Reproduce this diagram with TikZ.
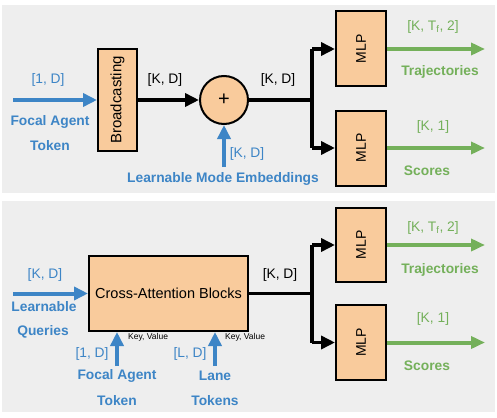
\documentclass[tikz,border=0pt]{standalone}
\usepackage{fontspec}
\setmainfont{Liberation Sans}
\usetikzlibrary{arrows.meta}
\definecolor{panel}{HTML}{EEEEEE}
\definecolor{peach}{HTML}{F9CB9C}
\definecolor{myblue}{HTML}{3D85C6}
\definecolor{mygreen}{HTML}{74B05A}
\tikzset{
  box/.style={draw=black, line width=2pt, fill=peach, inner sep=0pt, font=\fontsize{14}{16}\selectfont},
  blk/.style={line width=3.5pt, black, line join=miter},
  blkarrow/.style={blk, -{Triangle[length=14pt,width=13pt]}},
  bluearrow/.style={line width=4pt, myblue, -{Triangle[length=14pt,width=13pt]}},
  greenarrow/.style={line width=4pt, mygreen, -{Triangle[length=14pt,width=12pt]}},
  lbl/.style={inner sep=0pt, font=\fontsize{13.8}{16}\selectfont},
  bluelbl/.style={lbl, text=myblue},
  bluebold/.style={lbl, text=myblue, font=\fontsize{13.8}{16}\selectfont\bfseries},
  greenlbl/.style={lbl, text=mygreen},
  greenbold/.style={lbl, text=mygreen, font=\fontsize{13.8}{16}\selectfont\bfseries},
  small/.style={inner sep=0pt, font=\fontsize{8.5}{10}\selectfont, anchor=west},
}
\begin{document}
\begin{tikzpicture}[x=1pt,y=-1pt]
\useasboundingbox (0,0) rectangle (497,417);
% panels
\fill[panel] (2,5) rectangle (495,193);
\fill[panel] (2,201) rectangle (495,412);

% ---------- top panel ----------
\node[box, rotate=90, minimum width=101pt, minimum height=39pt, font=\fontsize{15}{16}\selectfont] (bc) at (117.5,100) {Broadcasting};
\node[box, circle, minimum size=48pt, font=\fontsize{20}{20}\selectfont] (plus) at (224,100) {+};
\node[box, rotate=90, minimum width=75pt, minimum height=50pt] (mlpa) at (361,49) {MLP};
\node[box, rotate=90, minimum width=75pt, minimum height=50pt] (mlpb) at (361,148) {MLP};
\coordinate (in1) at (13,100);
\coordinate (emb) at (224,167);
\coordinate (j1) at (312,100);
\coordinate (outa) at (485,49);
\coordinate (outb) at (485,148);

\draw[bluearrow] (in1) -- (bc);
\draw[blkarrow] (bc) -- (plus);
\draw[bluearrow] (emb) -- (plus);
\draw[blk] (plus) -- (j1);
\draw[blk] (j1 |- mlpa) -- (j1 |- mlpb);
\draw[blkarrow] (j1 |- mlpa) -- (mlpa);
\draw[blkarrow] (j1 |- mlpb) -- (mlpb);
\draw[greenarrow] (mlpa) -- (outa);
\draw[greenarrow] (mlpb) -- (outb);

\node[bluelbl] (t1) at (48,80) {[1, D]};
\node[bluebold] (t2) at (50,122) {Focal Agent};
\node[bluebold] (t3) at (50,146) {Token};
\node[lbl] (t4) at (165,80) {[K, D]};
\node[bluelbl] (t5) at (247,154) {[K, D]};
\node[bluebold] (t6) at (223,179) {Learnable Mode Embeddings};
\node[lbl] (t7) at (278,80) {[K, D]};
\node[greenlbl] (t8) at (433,27) {[K, T\textsubscript{f}, 2]};
\node[greenbold] (t9) at (440,72) {Trajectories};
\node[greenlbl] (t10) at (433,127) {[K, 1]};
\node[greenbold] (t11) at (427,171) {Scores};

% ---------- bottom panel ----------
\node[box, minimum width=159pt, minimum height=75pt, font=\fontsize{14.5}{16}\selectfont] (ca) at (168.5,293.5) {Cross-Attention Blocks};
\node[box, rotate=90, minimum width=74pt, minimum height=50pt] (mlpc) at (361,245) {MLP};
\node[box, rotate=90, minimum width=75pt, minimum height=50pt] (mlpd) at (361,342.5) {MLP};
\coordinate (in2) at (13,293.5);
\coordinate (fa) at (117,366);
\coordinate (ln) at (215,366);
\coordinate (j2) at (312,293.5);
\coordinate (outc) at (485,245);
\coordinate (outd) at (485,342.5);

\draw[bluearrow] (in2) -- (ca);
\draw[bluearrow] (fa) -- (fa |- ca.south);
\draw[bluearrow] (ln) -- (ln |- ca.south);
\draw[blk] (ca) -- (j2);
\draw[blk] (j2 |- mlpc) -- (j2 |- mlpd);
\draw[blkarrow] (j2 |- mlpc) -- (mlpc);
\draw[blkarrow] (j2 |- mlpd) -- (mlpd);
\draw[greenarrow] (mlpc) -- (outc);
\draw[greenarrow] (mlpd) -- (outd);

\node[bluelbl] (b1) at (45,275) {[K, D]};
\node[bluebold] (b2) at (44,307) {Learnable};
\node[bluebold] (b3) at (43,332) {Queries};
\node[bluelbl] (b4) at (92,354) {[1, D]};
\node[bluebold] (b5) at (117,376) {Focal Agent};
\node[bluebold] (b6) at (117,401) {Token};
\node[bluelbl] (b7) at (190,354) {[L, D]};
\node[bluebold] (b8) at (215,376) {Lane};
\node[bluebold] (b9) at (215,401) {Tokens};
\node[small] (b10) at (128,337) {Key, Value};
\node[small] (b11) at (225,337) {Key, Value};
\node[lbl] (b12) at (280,275) {[K, D]};
\node[greenlbl] (b13) at (433,228) {[K, T\textsubscript{f}, 2]};
\node[greenbold] (b14) at (440,270) {Trajectories};
\node[greenlbl] (b15) at (433,319) {[K, 1]};
\node[greenbold] (b16) at (427,366) {Scores};
\end{tikzpicture}
\end{document}
